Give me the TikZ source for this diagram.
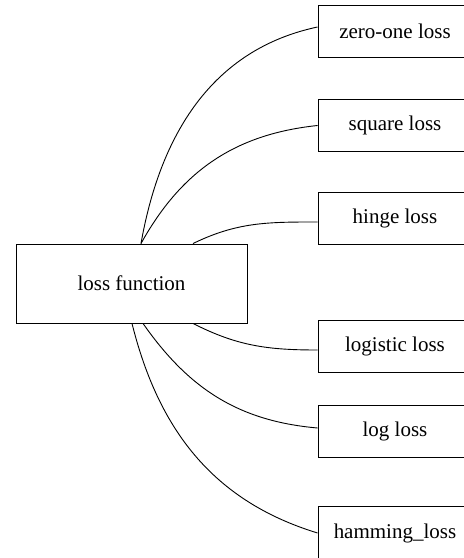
\documentclass[tikz,border=0pt]{standalone}
\usepackage{fontspec}
\setmainfont{Liberation Serif}
\begin{document}
\begin{tikzpicture}[x=1pt,y=1pt,
  mainbox/.style={draw,line width=0.9pt,minimum width=231pt,minimum height=79pt,font=\fontsize{21}{25}\selectfont},
  lossbox/.style={draw,line width=0.9pt,minimum width=154pt,minimum height=52pt,font=\fontsize{21}{25}\selectfont},
  link/.style={line width=0.9pt}]
\useasboundingbox (0,0) rectangle (464,558);
\clip (0,0) rectangle (464,558);
\node[mainbox] (lf) at (131.5,274.5) {loss function};
\node[lossbox] (zo) at (395,527) {zero-one loss};
\node[lossbox] (sq) at (395,432.5) {square loss};
\node[lossbox] (hi) at (395,339.5) {hinge loss};
\node[lossbox] (lg) at (395,211.5) {logistic loss};
\node[lossbox] (lo) at (395,127) {log loss};
\node[lossbox,minimum height=54pt] (ha) at (395,25) {hamming\_loss};
\draw[link] ([xshift=9.5pt]lf.north) to[out=80,in=192] ([yshift=4pt]zo.west);
\draw[link] ([xshift=9.5pt]lf.north) to[out=61,in=186] (sq.west);
\draw[link] ([xshift=61.5pt]lf.north) to[out=26,in=180] ([yshift=-3.5pt]hi.west);
\draw[link] ([xshift=61.5pt]lf.south) to[out=-27,in=180] ([yshift=-3.5pt]lg.west);
\draw[link] ([xshift=11.5pt]lf.south) to[out=-55,in=175] ([yshift=3pt]lo.west);
\draw[link] ([xshift=0.5pt]lf.south) to[out=-76,in=163] (ha.west);
\end{tikzpicture}
\end{document}
